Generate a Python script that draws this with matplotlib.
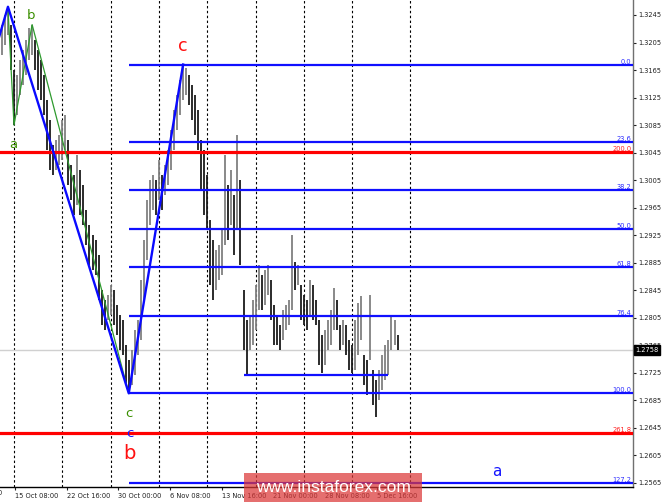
import matplotlib
matplotlib.use('Agg')
import matplotlib.pyplot as plt
import numpy as np
from matplotlib.transforms import blended_transform_factory as btf
from matplotlib.patches import Rectangle

# ---- data (GBP/USD style bars) ----
highs = [1.3231, 1.3245, 1.3255, 1.3231, 1.3165, 1.3158, 1.3180, 1.3194, 1.3209, 1.3226,
         1.3231, 1.3209, 1.3194, 1.3180, 1.3158, 1.3122, 1.3092, 1.3056, 1.3063, 1.3071,
         1.3092, 1.3100, 1.3063, 1.3027, 1.3013, 1.3042, 1.3020, 1.2998, 1.2962, 1.2940,
         1.2925, 1.2918, 1.2896, 1.2845, 1.2831, 1.2838, 1.2853, 1.2845, 1.2824, 1.2809,
         1.2802, 1.2765, 1.2744, 1.2758, 1.2787, 1.2802, 1.2860, 1.2918, 1.2976, 1.3005,
         1.3013, 1.3005, 1.3034, 1.3013, 1.3027, 1.3049, 1.3078, 1.3107, 1.3129, 1.3151,
         1.3174, 1.3168, 1.3158, 1.3143, 1.3129, 1.3107, 1.3063, 1.3049, 1.3013, 1.2947,
         1.2918, 1.2904, 1.2911, 1.2933, 1.3042, 1.2998, 1.3020, 1.2983, 1.3071, 1.3005,
         1.2845, 1.2802, 1.2809, 1.2831, 1.2853, 1.2882, 1.2867, 1.2874, 1.2882, 1.2860,
         1.2824, 1.2809, 1.2794, 1.2816, 1.2824, 1.2831, 1.2925, 1.2886, 1.2882, 1.2853,
         1.2838, 1.2831, 1.2860, 1.2853, 1.2831, 1.2802, 1.2780, 1.2787, 1.2802, 1.2816,
         1.2848, 1.2831, 1.2794, 1.2802, 1.2794, 1.2773, 1.2765, 1.2802, 1.2826, 1.2837,
         1.2751, 1.2744, 1.2838, 1.2729, 1.2714, 1.2729, 1.2751, 1.2765, 1.2773, 1.2809,
         1.2802, 1.2780]
lows = [1.3187, 1.3202, 1.3216, 1.3165, 1.3085, 1.3100, 1.3129, 1.3143, 1.3158, 1.3180,
        1.3187, 1.3165, 1.3136, 1.3122, 1.3100, 1.3049, 1.3020, 1.3013, 1.3020, 1.3027,
        1.3034, 1.3049, 1.2998, 1.2976, 1.2954, 1.2969, 1.2954, 1.2940, 1.2911, 1.2882,
        1.2874, 1.2867, 1.2831, 1.2794, 1.2787, 1.2802, 1.2809, 1.2794, 1.2780, 1.2758,
        1.2751, 1.2707, 1.2696, 1.2707, 1.2722, 1.2751, 1.2773, 1.2831, 1.2889, 1.2940,
        1.2962, 1.2954, 1.2976, 1.2962, 1.2983, 1.2998, 1.3020, 1.3049, 1.3078, 1.3100,
        1.3122, 1.3129, 1.3114, 1.3092, 1.3071, 1.3049, 1.2991, 1.2954, 1.2933, 1.2853,
        1.2831, 1.2845, 1.2860, 1.2867, 1.2911, 1.2918, 1.2940, 1.2896, 1.2933, 1.2882,
        1.2758, 1.2722, 1.2758, 1.2765, 1.2787, 1.2816, 1.2816, 1.2824, 1.2838, 1.2802,
        1.2765, 1.2765, 1.2758, 1.2773, 1.2787, 1.2794, 1.2816, 1.2845, 1.2853, 1.2802,
        1.2794, 1.2787, 1.2809, 1.2802, 1.2794, 1.2736, 1.2725, 1.2736, 1.2758, 1.2765,
        1.2787, 1.2787, 1.2758, 1.2765, 1.2751, 1.2729, 1.2725, 1.2729, 1.2751, 1.2773,
        1.2707, 1.2693, 1.2744, 1.2678, 1.2661, 1.2685, 1.2700, 1.2714, 1.2722, 1.2758,
        1.2765, 1.2758]

fib_levels = ['0.0', '23.6', '38.2', '50.0', '61.8', '76.4', '100.0', '127.2']
fib_prices = [1.3173, 1.3060, 1.2990, 1.2934, 1.2878, 1.2808, 1.2695, 1.2565]
fib_start_bar = 42
ext_levels = ['200.0', '261.8']
ext_prices = [1.3046, 1.2638]
box_line_bars = [80, 128]
box_line_price = 1.2722
last_price = 1.2758

blue_wave_bars = [-4, 2, 42, 60]
blue_wave_prices = [1.3167, 1.3257, 1.2695, 1.3173]
green_wave_bars = [2, 4, 10, 42]
green_wave_prices = [1.3255, 1.3085, 1.3231, 1.2695]

wave_texts = ['b', 'a', 'b', 'c', 'c', 'c', 'b', 'a']
wave_text_bars = [1.35, 3.7, 9.6, 60.0, 42.1, 42.4, 42.1, 163.9]
wave_text_prices = [1.3273, 1.3057, 1.3244, 1.3200, 1.2666, 1.2637, 1.2607, 1.2581]
wave_text_colors = ['#1414ff', '#3a8f00', '#3a8f00', '#ff1010', '#3a8f00', '#1414ff', '#ff1010', '#1414ff']
wave_text_sizes = [10, 9.5, 9.5, 12.5, 9.5, 9.5, 14, 11]

grid_bars = [4, 20, 36, 52, 68, 84, 100, 116, 135]
date_labels = ['8 Oct 00:00', '15 Oct 08:00', '22 Oct 16:00', '30 Oct 00:00', '6 Nov 08:00',
               '13 Nov 16:00', '21 Nov 00:00', '28 Nov 08:00', '5 Dec 16:00']
date_pos = [-12.79, 4.33, 21.45, 38.54, 55.66, 72.77, 89.86, 106.98, 124.09]
price_ticks = [1.2565, 1.2605, 1.2645, 1.2685, 1.2725, 1.2765, 1.2805, 1.2845, 1.2885,
               1.2925, 1.2965, 1.3005, 1.3045, 1.3085, 1.3125, 1.3165, 1.3205, 1.3245]

# ---- figure ----
W, H = 665, 504
fig = plt.figure(figsize=(W / 100, H / 100), dpi=100)
ax = fig.add_axes([0, 17 / H, 633 / W, 487 / H])
x_left, x_right = -0.636, 208.97
ax.set_xlim(x_left, x_right)
ax.set_ylim(1.25588, 1.32668)

for s in ['top', 'left']:
    ax.spines[s].set_visible(False)
ax.spines['bottom'].set_color('black')
ax.spines['bottom'].set_linewidth(1.0)
ax.spines['right'].set_color('#707070')
ax.spines['right'].set_linewidth(1.0)

# grid
for gb in grid_bars:
    ax.axvline(gb, color='black', lw=0.8, ls=(0, (2.2, 2.2)), zorder=1)

# current price line
ax.axhline(last_price, color='#d0d0d0', lw=1.0, zorder=1)

# bars
idx = np.arange(len(highs))
h = np.array(highs)
l = np.array(lows)
mid = (h + l) / 2
cols = ['#808080'] + ['#1a1a1a' if mid[i] < mid[i - 1] else '#808080' for i in range(1, len(mid))]
ax.vlines(idx, l, h, colors=cols, lw=1.3, zorder=2)

# red extension lines
for lab, p in zip(ext_levels, ext_prices):
    ax.axhline(p, color='#ff0000', lw=2.3, zorder=3)
    ax.text(1 - 1.5 / 633, p, lab, transform=btf(ax.transAxes, ax.transData),
            ha='right', va='bottom', fontsize=4.8, color='#ff2020', zorder=6)

# blue fib lines
for lab, p in zip(fib_levels, fib_prices):
    ax.hlines(p, fib_start_bar, x_right, color='#1010ff', lw=1.6, zorder=4)
    ax.text(1 - 1.5 / 633, p, lab, transform=btf(ax.transAxes, ax.transData),
            ha='right', va='bottom', fontsize=4.8, color='#2a2aff', zorder=6)

ax.hlines(box_line_price, box_line_bars[0], box_line_bars[1], color='#1010ff', lw=1.6, zorder=4)

# wave lines
ax.plot(green_wave_bars, green_wave_prices, color='#2e9a2e', lw=0.9, zorder=5)
ax.plot(blue_wave_bars, blue_wave_prices, color='#0a0aff', lw=1.7, zorder=5)

for t, b, p, c, s in zip(wave_texts, wave_text_bars, wave_text_prices, wave_text_colors, wave_text_sizes):
    ax.text(b, p, t, color=c, fontsize=s, ha='center', va='center', zorder=7, clip_on=False)

# axes ticks
ax.yaxis.tick_right()
ax.set_yticks(price_ticks)
ax.set_yticklabels([f'{v:.4f}' for v in price_ticks])
ax.tick_params(axis='y', length=2.5, width=0.8, pad=1.5, labelsize=4.8, colors='#202020')

ax.set_xticks(date_pos[1:])
ax.set_xticklabels(date_labels[1:])
ax.tick_params(axis='x', length=2.5, width=0.8, pad=1.5, labelsize=4.8, colors='#202020')
for lbl in ax.get_xticklabels():
    lbl.set_ha('left')
ax.text(date_pos[0], -0.006, date_labels[0], transform=btf(ax.transData, ax.transAxes),
        ha='left', va='top', fontsize=4.8, color='#202020', clip_on=False)

# current price box
ax.text(1 + 2.5 / 633, last_price, f'{last_price:.4f}', transform=btf(ax.transAxes, ax.transData),
        ha='left', va='center', fontsize=4.8, color='white', zorder=8, clip_on=False,
        bbox=dict(boxstyle='square,pad=0.25', fc='black', ec='black'))

# watermark
fig.patches.append(Rectangle((244 / W, 2 / H), 178 / W, 29 / H, transform=fig.transFigure,
                             facecolor=(0.86, 0.22, 0.22), alpha=0.72, edgecolor='none', zorder=10))
fig.text(333 / W, 16.5 / H, 'www.instaforex.com', color='white', fontsize=12.5,
         family='Liberation Sans', ha='center', va='center', zorder=11)

fig.savefig('out.png', dpi=100)
